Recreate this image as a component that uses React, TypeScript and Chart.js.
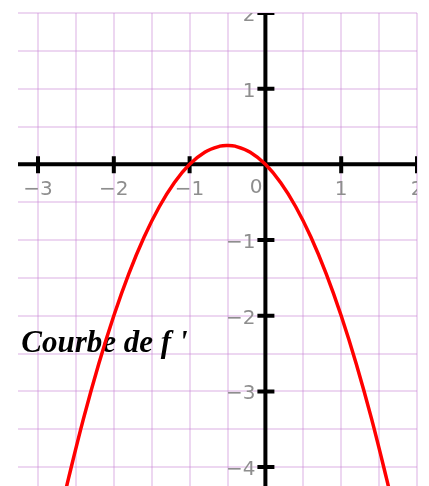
import React, { useEffect, useRef } from 'react';
import { Chart, registerables } from 'chart.js';

Chart.register(...registerables);

// Curve of f'
const curveX = [-2.7, -2.6, -2.4, -2.2, -2.0, -1.8, -1.6, -1.4, -1.2, -1.0, -0.8, -0.6, -0.5, -0.4, -0.2, 0, 0.2, 0.4, 0.6, 0.8, 1.0, 1.2, 1.4, 1.6, 1.7];
const curveY = [-4.59, -4.16, -3.36, -2.64, -2.0, -1.44, -0.96, -0.56, -0.24, 0, 0.16, 0.24, 0.25, 0.24, 0.16, 0, -0.24, -0.56, -0.96, -1.44, -2.0, -2.64, -3.36, -4.16, -4.59];

// Axis ticks and labels
const xTickValues = [-3, -2, -1, 0, 1, 2];
const xTickLabels = ['\u22123', '\u22122', '\u22121', '0', '1', '2'];
const yTickValues = [-4, -3, -2, -1, 1, 2];
const yTickLabels = ['\u22124', '\u22123', '\u22122', '\u22121', '1', '2'];

// Annotation
const annotationText = "Courbe de f '";
const annotationPos = { x: -3.22, y: -2.48 };

const axesPlugin = {
  id: 'centeredAxes',
  beforeDatasetsDraw(chart: any) {
    const { ctx, chartArea: a, scales } = chart;
    const xs = scales.x;
    const ys = scales.y;
    const x0 = xs.getPixelForValue(0);
    const y0 = ys.getPixelForValue(0);
    ctx.save();
    ctx.beginPath();
    ctx.rect(a.left, a.top, a.right - a.left, a.bottom - a.top);
    ctx.clip();

    // axis lines
    ctx.strokeStyle = '#000';
    ctx.lineWidth = 4;
    ctx.beginPath();
    ctx.moveTo(a.left, y0);
    ctx.lineTo(a.right, y0);
    ctx.moveTo(x0, a.top);
    ctx.lineTo(x0, a.bottom);
    ctx.stroke();

    // tick crosses
    ctx.lineWidth = 4;
    ctx.beginPath();
    xTickValues.forEach((v) => {
      if (v === 0) return;
      const px = xs.getPixelForValue(v);
      ctx.moveTo(px, y0 - 8);
      ctx.lineTo(px, y0 + 9);
    });
    yTickValues.forEach((v) => {
      const py = ys.getPixelForValue(v);
      ctx.moveTo(x0 - 8, py);
      ctx.lineTo(x0 + 9, py);
    });
    ctx.stroke();

    // tick labels
    ctx.fillStyle = '#8e8e8e';
    ctx.font = "20px 'DejaVu Sans'";
    ctx.textBaseline = 'alphabetic';
    xTickValues.forEach((v, i) => {
      const px = xs.getPixelForValue(v);
      if (v === 0) {
        ctx.textAlign = 'right';
        ctx.fillText(xTickLabels[i], x0 - 3, y0 + 29);
      } else {
        ctx.textAlign = 'center';
        ctx.fillText(xTickLabels[i], px, y0 + 31);
      }
    });
    ctx.textAlign = 'right';
    yTickValues.forEach((v, i) => {
      const py = ys.getPixelForValue(v);
      ctx.fillText(yTickLabels[i], x0 - 10, py + 8);
    });

    // annotation text
    ctx.fillStyle = '#000';
    ctx.font = "italic bold 31px 'Liberation Serif'";
    ctx.textAlign = 'left';
    ctx.fillText(annotationText, xs.getPixelForValue(annotationPos.x), ys.getPixelForValue(annotationPos.y));

    ctx.restore();
  },
};

export default function App() {
  const ref = useRef<HTMLCanvasElement>(null);
  useEffect(() => {
    if (!ref.current) return;
    const points = curveX.map((x, i) => ({ x, y: curveY[i] }));
    const gridStyle = {
      color: 'rgba(200, 130, 210, 0.32)',
      lineWidth: 2,
      drawTicks: false,
    };
    const chart = new Chart(ref.current, {
      type: 'line',
      data: {
        datasets: [
          {
            data: points,
            borderColor: '#ff0000',
            borderWidth: 3.5,
            pointRadius: 0,
            tension: 0.4,
            fill: false,
          },
        ],
      },
      options: {
        animation: false,
        responsive: true,
        maintainAspectRatio: false,
        layout: { padding: { left: 18, top: 13, right: 12, bottom: 0 } },
        plugins: { legend: { display: false }, tooltip: { enabled: false } },
        scales: {
          x: {
            type: 'linear',
            min: -3.264,
            max: 2,
            grid: gridStyle,
            border: { display: false },
            ticks: { display: false, stepSize: 0.5, includeBounds: false, padding: 0 },
          },
          y: {
            type: 'linear',
            min: -4.25,
            max: 2,
            grid: gridStyle,
            border: { display: false },
            ticks: { display: false, stepSize: 0.5, includeBounds: false, padding: 0 },
          },
        },
      },
      plugins: [axesPlugin],
    });
    return () => chart.destroy();
  }, []);
  return (
    <div style={{ position: 'absolute', left: 0, top: 0, width: 429, height: 486, background: '#fff' }}>
      <canvas ref={ref} />
    </div>
  );
}
